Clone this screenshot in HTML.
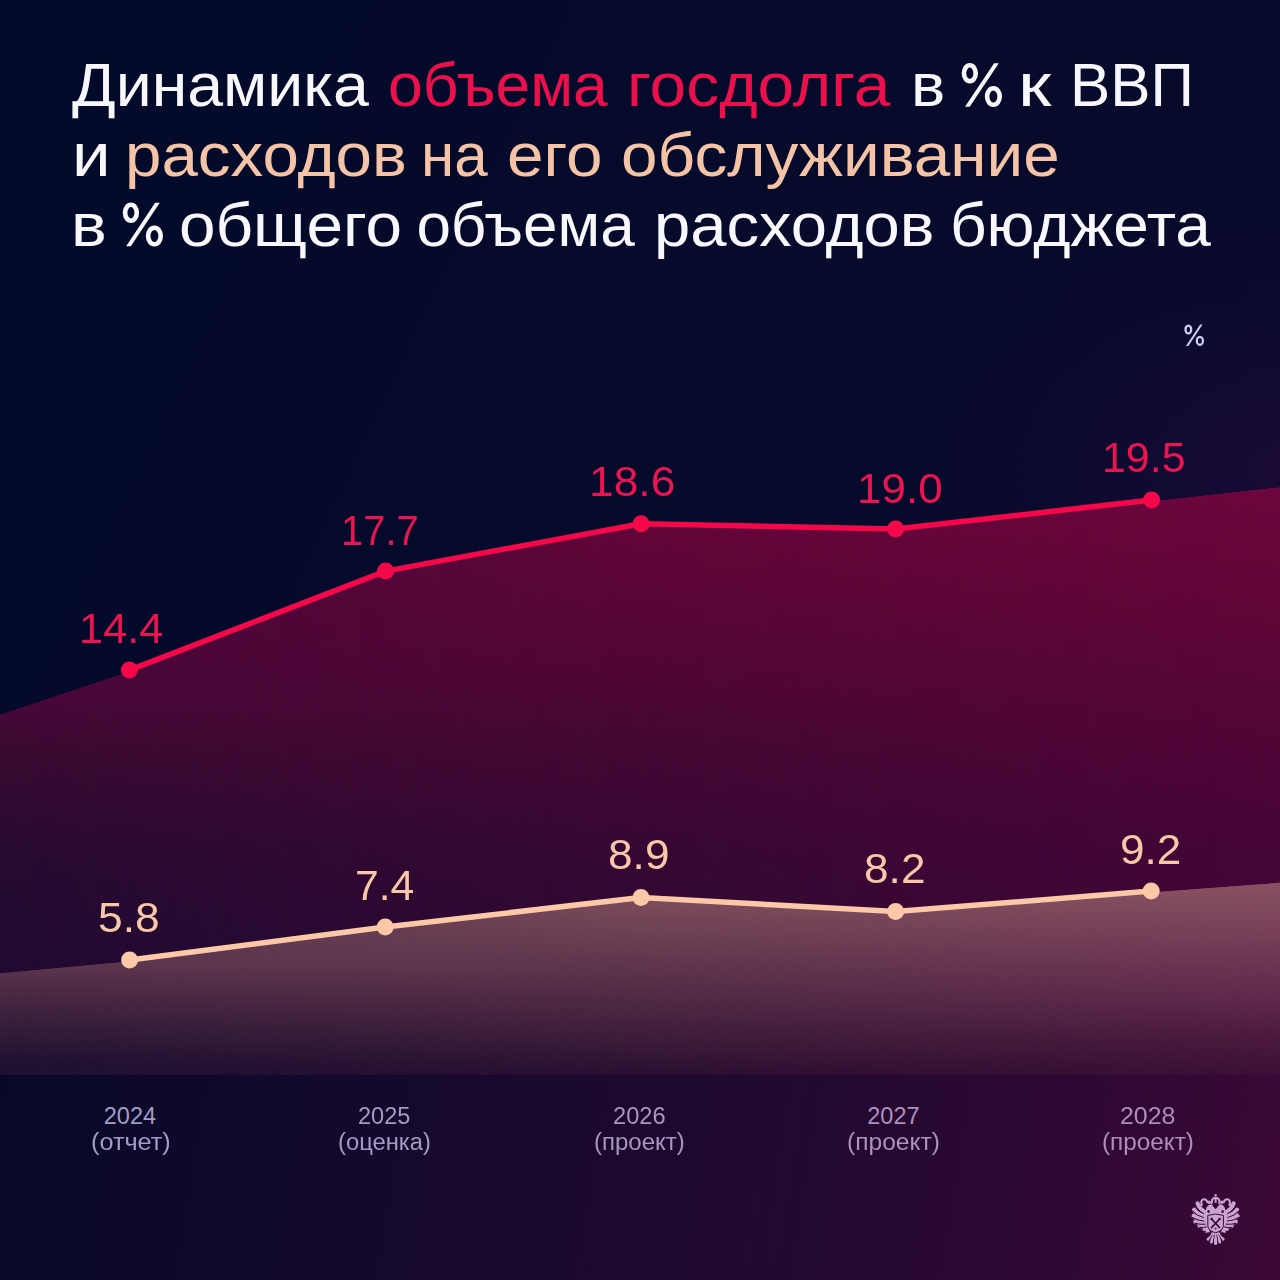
<!DOCTYPE html>
<html lang="ru">
<head>
<meta charset="utf-8">
<style>
*{margin:0;padding:0;box-sizing:border-box;}
html,body{width:1280px;height:1280px;overflow:hidden;}
body{position:relative;background:#030a2a;font-family:"Liberation Sans",sans-serif;}
#bg{position:absolute;left:0;top:0;width:1280px;height:1280px;}
.t,.lr,.lp,.pc,.yl{position:absolute;white-space:nowrap;transform-origin:0 0;}
.t{color:#f8f8fc;font-size:62px;line-height:62px;}
.t.r{color:#eb0f4b;}
.t.p{color:#f5c3a5;}
.lr{color:#ea1450;}
.lp{color:#f8c8a8;}
.pc{color:#cdcdeb;}
.yl{color:#a69cc6;}
.y0{color:rgb(163,157,198);}.y1{color:rgb(166,154,196);}.y2{color:rgb(168,150,194);}.y3{color:rgb(170,146,191);}.y4{color:rgb(172,142,189);}
</style>
</head>
<body>
<svg id="bg" width="1280" height="1280" viewBox="0 0 1280 1280">
  <defs>
    <linearGradient id="gBase" x1="0" y1="0" x2="1280" y2="600" gradientUnits="userSpaceOnUse">
      <stop offset="0" stop-color="#030a2a"/>
      <stop offset="1" stop-color="#090a2c"/>
    </linearGradient>
    <linearGradient id="gBot" x1="0" y1="1075" x2="1280" y2="1280" gradientUnits="userSpaceOnUse">
      <stop offset="0" stop-color="rgb(8,9,41)"/>
      <stop offset="0.5" stop-color="rgb(28,9,46)"/>
      <stop offset="0.8" stop-color="rgb(44,8,50)"/>
      <stop offset="1" stop-color="rgb(60,8,54)"/>
    </linearGradient>
    <radialGradient id="gGlow" cx="0.5" cy="0.5" r="0.5">
      <stop offset="0" stop-color="rgb(40,10,62)" stop-opacity="0.55"/>
      <stop offset="0.6" stop-color="rgb(25,10,55)" stop-opacity="0.25"/>
      <stop offset="1" stop-color="rgb(20,10,50)" stop-opacity="0"/>
    </radialGradient>
    <linearGradient id="g_up_L" x1="0" y1="700" x2="0" y2="1075" gradientUnits="userSpaceOnUse"><stop offset="0.0000" stop-color="rgb(72,8,56)"/><stop offset="0.1333" stop-color="rgb(58,10,50)"/><stop offset="0.4000" stop-color="rgb(40,10,48)"/><stop offset="0.6667" stop-color="rgb(33,10,49)"/><stop offset="1.0000" stop-color="rgb(28,10,48)"/></linearGradient><linearGradient id="g_up_C" x1="0" y1="500" x2="0" y2="1075" gradientUnits="userSpaceOnUse"><stop offset="0.0000" stop-color="rgb(102,6,58)"/><stop offset="0.2087" stop-color="rgb(88,5,55)"/><stop offset="0.4348" stop-color="rgb(68,8,52)"/><stop offset="0.6087" stop-color="rgb(55,8,52)"/><stop offset="0.7826" stop-color="rgb(48,9,51)"/><stop offset="1.0000" stop-color="rgb(40,10,50)"/></linearGradient><linearGradient id="g_up_R" x1="0" y1="480" x2="0" y2="1075" gradientUnits="userSpaceOnUse"><stop offset="0.0000" stop-color="rgb(110,6,62)"/><stop offset="0.2353" stop-color="rgb(95,5,56)"/><stop offset="0.4538" stop-color="rgb(80,5,55)"/><stop offset="0.6218" stop-color="rgb(70,5,55)"/><stop offset="0.7899" stop-color="rgb(64,6,55)"/><stop offset="1.0000" stop-color="rgb(58,7,55)"/></linearGradient><linearGradient id="g_lo_L" x1="0" y1="965" x2="0" y2="1075" gradientUnits="userSpaceOnUse"><stop offset="0.0000" stop-color="rgb(92,54,78)"/><stop offset="0.3182" stop-color="rgb(70,38,65)"/><stop offset="0.5909" stop-color="rgb(50,28,58)"/><stop offset="0.8636" stop-color="rgb(33,18,50)"/><stop offset="1.0000" stop-color="rgb(28,16,48)"/></linearGradient><linearGradient id="g_lo_C" x1="0" y1="890" x2="0" y2="1075" gradientUnits="userSpaceOnUse"><stop offset="0.0000" stop-color="rgb(128,80,94)"/><stop offset="0.5405" stop-color="rgb(85,45,70)"/><stop offset="0.8108" stop-color="rgb(60,28,58)"/><stop offset="1.0000" stop-color="rgb(42,15,50)"/></linearGradient><linearGradient id="g_lo_R" x1="0" y1="875" x2="0" y2="1075" gradientUnits="userSpaceOnUse"><stop offset="0.0000" stop-color="rgb(140,85,100)"/><stop offset="0.6250" stop-color="rgb(95,40,75)"/><stop offset="0.8250" stop-color="rgb(75,25,62)"/><stop offset="1.0000" stop-color="rgb(60,15,55)"/></linearGradient><linearGradient id="hL" x1="0" y1="0" x2="640" y2="0" gradientUnits="userSpaceOnUse"><stop offset="0" stop-color="#fff"/><stop offset="1" stop-color="#000"/></linearGradient><linearGradient id="hR" x1="640" y1="0" x2="1280" y2="0" gradientUnits="userSpaceOnUse"><stop offset="0" stop-color="#000"/><stop offset="1" stop-color="#fff"/></linearGradient><mask id="mL" maskUnits="userSpaceOnUse" x="0" y="0" width="1280" height="1280"><rect x="0" y="0" width="1280" height="1280" fill="url(#hL)"/></mask><mask id="mR" maskUnits="userSpaceOnUse" x="0" y="0" width="1280" height="1280"><rect x="0" y="0" width="1280" height="1280" fill="url(#hR)"/></mask>
  </defs>
  <rect x="0" y="0" width="1280" height="1280" fill="url(#gBase)"/>
  <ellipse cx="1300" cy="470" rx="420" ry="260" fill="url(#gGlow)"/>
  <polygon points="0,715 129.4,671.6 385.6,572.6 641.1,525.3 895.6,530.6 1151.6,501.5 1280,487.5 1280,1075 0,1075" fill="url(#g_up_C)"/><polygon points="0,715 129.4,671.6 385.6,572.6 641.1,525.3 895.6,530.6 1151.6,501.5 1280,487.5 1280,1075 0,1075" fill="url(#g_up_L)" mask="url(#mL)"/><polygon points="0,715 129.4,671.6 385.6,572.6 641.1,525.3 895.6,530.6 1151.6,501.5 1280,487.5 1280,1075 0,1075" fill="url(#g_up_R)" mask="url(#mR)"/><polygon points="0,973.4 129.6,961.6 385.2,928.5 641.0,899.1 895.6,913.0 1151.2,892.6 1280,882.8 1280,1075 0,1075" fill="url(#g_lo_C)"/><polygon points="0,973.4 129.6,961.6 385.2,928.5 641.0,899.1 895.6,913.0 1151.2,892.6 1280,882.8 1280,1075 0,1075" fill="url(#g_lo_L)" mask="url(#mL)"/><polygon points="0,973.4 129.6,961.6 385.2,928.5 641.0,899.1 895.6,913.0 1151.2,892.6 1280,882.8 1280,1075 0,1075" fill="url(#g_lo_R)" mask="url(#mR)"/>
  <rect x="0" y="1075" width="1280" height="205" fill="url(#gBot)"/>
  <polyline points="129.4,670.1 385.6,571.1 641.1,523.8 895.6,529.1 1151.6,500.0" fill="none" stroke="#f5084a" stroke-width="5.5" stroke-linejoin="round"/>
  <polyline points="129.6,960.1 385.2,927.0 641.0,897.6 895.6,911.5 1151.2,891.1" fill="none" stroke="#fcc8a8" stroke-width="5.5" stroke-linejoin="round"/>
  <g fill="#f5084a"><circle cx="129.4" cy="670.1" r="8.5"/><circle cx="385.6" cy="571.1" r="8.5"/><circle cx="641.1" cy="523.8" r="8.5"/><circle cx="895.6" cy="529.1" r="8.5"/><circle cx="1151.6" cy="500" r="8.5"/></g>
  <g fill="#fcc8a8"><circle cx="129.6" cy="960.1" r="8.5"/><circle cx="385.2" cy="927" r="8.5"/><circle cx="641" cy="897.6" r="8.5"/><circle cx="895.6" cy="911.5" r="8.5"/><circle cx="1151.2" cy="891.1" r="8.5"/></g>
  <g fill="none" stroke="#f8f8fc" stroke-width="4.60"><ellipse cx="969.84" cy="73.30" rx="5.86" ry="8.00"/><ellipse cx="993.39" cy="96.48" rx="6.31" ry="8.22"/></g><polygon fill="#f8f8fc" points="994.09,63.22 998.79,63.22 969.71,106.78 965.01,106.78"/><g fill="none" stroke="#f8f8fc" stroke-width="4.60"><ellipse cx="130.92" cy="212.80" rx="5.84" ry="8.00"/><ellipse cx="154.41" cy="235.98" rx="6.29" ry="8.22"/></g><polygon fill="#f8f8fc" points="155.10,202.72 159.80,202.72 130.80,246.28 126.10,246.28"/><g fill="none" stroke="#cdcdeb" stroke-width="2.30"><ellipse cx="1188.34" cy="329.45" rx="2.85" ry="3.90"/><ellipse cx="1199.88" cy="340.84" rx="3.07" ry="4.01"/></g><polygon fill="#cdcdeb" points="1200.13,324.51 1202.53,324.51 1188.37,345.89 1185.97,345.89"/><g transform="translate(1188,1190)"><g fill="none" stroke="#caa3cf" stroke-linecap="round"><path d="M9.6,13.4 Q11.2,20.0 21.0,24.0" stroke-width="4.3"/><path d="M6.2,19.8 Q9.6,25.4 21.0,27.0" stroke-width="4.5"/><path d="M5.8,26.0 Q10.5,29.8 21.0,29.6" stroke-width="4.5"/><path d="M7.4,31.8 Q12.3,33.7 21.0,32.2" stroke-width="4.3"/><path d="M11.4,36.2 Q15.3,37.0 21.0,34.6" stroke-width="3.9"/><path d="M16.0,39.3 Q18.4,39.3 21.2,37.0" stroke-width="3.3"/></g><g fill="none" stroke="#380a3a" stroke-linecap="round" stroke-width="1.0"><path d="M6.95,14.29 Q9.40,20.26 15.70,23.67"/><path d="M4.37,21.01 Q8.43,25.72 15.41,27.59"/><path d="M4.45,27.62 Q9.48,30.61 16.00,31.09"/><path d="M7.01,33.27 Q12.04,34.81 17.19,34.23"/><path d="M11.22,37.44 Q15.59,37.99 18.81,36.90"/></g><g transform="translate(55.2,0) scale(-1,1)"><g fill="none" stroke="#caa3cf" stroke-linecap="round"><path d="M9.6,13.4 Q11.2,20.0 21.0,24.0" stroke-width="4.3"/><path d="M6.2,19.8 Q9.6,25.4 21.0,27.0" stroke-width="4.5"/><path d="M5.8,26.0 Q10.5,29.8 21.0,29.6" stroke-width="4.5"/><path d="M7.4,31.8 Q12.3,33.7 21.0,32.2" stroke-width="4.3"/><path d="M11.4,36.2 Q15.3,37.0 21.0,34.6" stroke-width="3.9"/><path d="M16.0,39.3 Q18.4,39.3 21.2,37.0" stroke-width="3.3"/></g><g fill="none" stroke="#380a3a" stroke-linecap="round" stroke-width="1.0"><path d="M6.95,14.29 Q9.40,20.26 15.70,23.67"/><path d="M4.37,21.01 Q8.43,25.72 15.41,27.59"/><path d="M4.45,27.62 Q9.48,30.61 16.00,31.09"/><path d="M7.01,33.27 Q12.04,34.81 17.19,34.23"/><path d="M11.22,37.44 Q15.59,37.99 18.81,36.90"/></g></g><g fill="none" stroke="#caa3cf" stroke-linecap="round"><path d="M27.6,43 L27.6,53.4" stroke-width="3.2"/><path d="M26.28,43 Q25.400000000000002,47 23.400000000000002,52.0" stroke-width="3.0"/><path d="M28.92,43 Q29.8,47 31.8,52.0" stroke-width="3.0"/><path d="M25.080000000000002,43 Q23.400000000000002,47 20.0,49.2" stroke-width="2.8"/><path d="M30.12,43 Q31.8,47 35.2,49.2" stroke-width="2.8"/></g><g fill="none" stroke="#380a3a" stroke-width="0.8" stroke-linecap="round"><path d="M26.400000000000002,45 L25.3,51.5"/><path d="M28.8,45 L29.900000000000002,51.5"/><path d="M24.3,45 L21.6,49.5"/><path d="M30.900000000000002,45 L33.6,49.5"/></g><path d="M20.5,37.5 Q16.8,39.5 17.6,43.2 Q19.8,41.8 22.2,42.4 Z" fill="#caa3cf"/><g transform="translate(55.2,0) scale(-1,1)"><path d="M20.5,37.5 Q16.8,39.5 17.6,43.2 Q19.8,41.8 22.2,42.4 Z" fill="#caa3cf"/></g><path d="M18.6,17.2 Q20.5,13.8 24,14.4 L27.6,18.4 L31.2,14.4 Q34.7,13.8 36.6,17.2 Q38.2,21.5 36.2,25.2 Q32,26.6 27.6,26 Q23.2,26.6 19,25.2 Q17,21.5 18.6,17.2 Z" fill="#caa3cf"/><g fill="none" stroke="#caa3cf" stroke-width="2.1" stroke-linecap="round"><path d="M13.6,14.8 Q12.4,9.8 15.8,9.2 Q18.4,9.0 19.4,12.2"/><path d="M41.6,14.8 Q42.800000000000004,9.8 39.400000000000006,9.2 Q36.800000000000004,9.0 35.800000000000004,12.2"/><path d="M23.8,13.2 Q23.2,8.2 27.6,7.8 Q32,8.2 31.4,13.2"/></g><g fill="#caa3cf"><circle cx="27.6" cy="5.2" r="1.2"/><circle cx="21.2" cy="12.2" r="1.7"/><circle cx="34.0" cy="12.2" r="1.7"/><circle cx="13.4" cy="15.0" r="1.2"/><circle cx="41.800000000000004" cy="15.0" r="1.2"/><rect x="26.6" y="8" width="2" height="5"/></g><path d="M19.8,25.4 Q27.6,22.6 35.4,25.4 L35.4,35.6 Q35.2,40.8 27.6,42.8 Q20,40.8 19.8,35.6 Z" fill="#caa3cf" stroke="#380a3a" stroke-width="1.0"/><g fill="#380a3a"><path d="M27.6,12.4 L30.8,15.4 L27.6,19.2 L24.400000000000002,15.4 Z"/><circle cx="20.6" cy="21.6" r="1.3"/><circle cx="34.6" cy="21.6" r="1.3"/></g><g stroke="#380a3a" stroke-width="1.6" stroke-linecap="round" fill="none"><path d="M23.6,29 L31.6,37.6"/><path d="M31.6,29 L23.6,37.6"/></g><g fill="#380a3a"><circle cx="23.6" cy="29" r="1.3"/><circle cx="31.6" cy="29" r="1.3"/><circle cx="27.6" cy="38.6" r="0.9"/></g></g>
</svg>
<div class="t" style="left:72.2px;top:54px;transform:scaleX(1.0392)">Динамика</div>
<div class="t r" style="left:388.3px;top:54px;transform:scaleX(1.0070)">объема</div>
<div class="t r" style="left:627.0px;top:54px;transform:scaleX(1.0627)">госдолга</div>
<div class="t" style="left:911.0px;top:54px;transform:scaleX(1.0385)">в</div>
<div class="t" style="left:1018.1px;top:54px;transform:scaleX(1.2261)">к</div>
<div class="t" style="left:1069.7px;top:54px;transform:scaleX(0.9729)">ВВП</div>
<div class="t" style="left:71.8px;top:124px;transform:scaleX(1.1154)">и</div>
<div class="t p" style="left:125.2px;top:124px;transform:scaleX(1.0554)">расходов</div>
<div class="t p" style="left:421.1px;top:124px;transform:scaleX(0.9692)">на</div>
<div class="t p" style="left:506.8px;top:124px;transform:scaleX(1.0588)">его</div>
<div class="t p" style="left:621.2px;top:124px;transform:scaleX(1.0589)">обслуживание</div>
<div class="t" style="left:71.3px;top:194px;transform:scaleX(1.0846)">в</div>
<div class="t" style="left:178.7px;top:194px;transform:scaleX(1.0590)">общего</div>
<div class="t" style="left:416.4px;top:194px;transform:scaleX(1.0000)">объема</div>
<div class="t" style="left:653.6px;top:194px;transform:scaleX(1.0504)">расходов</div>
<div class="t" style="left:949.7px;top:194px;transform:scaleX(1.0313)">бюджета</div>
<div class="lr" style="left:79.2px;top:607.0px;font-size:43px;line-height:43px;transform:scaleX(1.0100)">14.4</div>
<div class="lr" style="left:341.2px;top:508.5px;font-size:43px;line-height:43px;transform:scaleX(0.9278)">17.7</div>
<div class="lr" style="left:589.3px;top:459.7px;font-size:43px;line-height:43px;transform:scaleX(1.0316)">18.6</div>
<div class="lr" style="left:856.6px;top:466.5px;font-size:43px;line-height:43px;transform:scaleX(1.0228)">19.0</div>
<div class="lr" style="left:1101.6px;top:435.6px;font-size:43px;line-height:43px;transform:scaleX(0.9975)">19.5</div>
<div class="lp" style="left:97.8px;top:896.0px;font-size:43px;line-height:43px;transform:scaleX(1.0321)">5.8</div>
<div class="lp" style="left:354.7px;top:863.9px;font-size:43px;line-height:43px;transform:scaleX(0.9930)">7.4</div>
<div class="lp" style="left:607.9px;top:833.4px;font-size:43px;line-height:43px;transform:scaleX(1.0286)">8.9</div>
<div class="lp" style="left:864.4px;top:847.4px;font-size:43px;line-height:43px;transform:scaleX(1.0286)">8.2</div>
<div class="lp" style="left:1120.2px;top:828.1px;font-size:43px;line-height:43px;transform:scaleX(1.0250)">9.2</div>
<div class="yl y0" style="left:103.8px;top:1105.4px;font-size:23.5px;line-height:23.5px;transform:scaleX(1.0000)">2024</div>
<div class="yl y0" style="left:90.6px;top:1130.8px;font-size:23.5px;line-height:23.5px;transform:scaleX(1.0736)">(отчет)</div>
<div class="yl y1" style="left:358.1px;top:1105.4px;font-size:23.5px;line-height:23.5px;transform:scaleX(1.0039)">2025</div>
<div class="yl y1" style="left:338.1px;top:1130.8px;font-size:23.5px;line-height:23.5px;transform:scaleX(1.0122)">(оценка)</div>
<div class="yl y2" style="left:612.8px;top:1105.4px;font-size:23.5px;line-height:23.5px;transform:scaleX(1.0060)">2026</div>
<div class="yl y2" style="left:593.5px;top:1130.8px;font-size:23.5px;line-height:23.5px;transform:scaleX(1.0218)">(проект)</div>
<div class="yl y3" style="left:867.3px;top:1105.4px;font-size:23.5px;line-height:23.5px;transform:scaleX(1.0000)">2027</div>
<div class="yl y3" style="left:846.8px;top:1130.8px;font-size:23.5px;line-height:23.5px;transform:scaleX(1.0460)">(проект)</div>
<div class="yl y4" style="left:1120.0px;top:1105.4px;font-size:23.5px;line-height:23.5px;transform:scaleX(1.0600)">2028</div>
<div class="yl y4" style="left:1101.6px;top:1130.8px;font-size:23.5px;line-height:23.5px;transform:scaleX(1.0345)">(проект)</div>
</body>
</html>
